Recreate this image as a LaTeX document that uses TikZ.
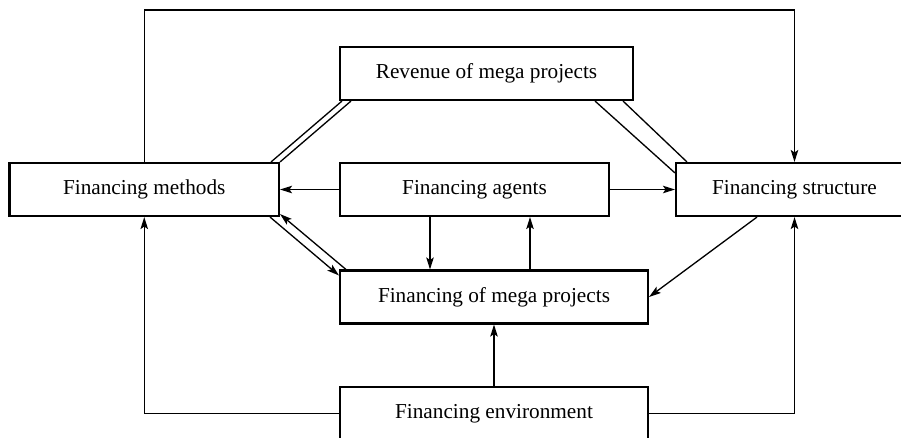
\documentclass[tikz,border=0pt]{standalone}
\usepackage{fontspec}
\setmainfont{Liberation Serif}
\usepackage{tikz}
\usetikzlibrary{arrows.meta,calc}

\begin{document}
\begin{tikzpicture}[
  x=0.02cm, y=-0.02cm,
  font=\fontsize{12.1}{14}\selectfont,
  box/.style={draw, line width=1.2pt, inner sep=0pt, minimum height=1.06cm},
  arr/.style={-{Stealth[length=0.24cm, width=0.15cm, inset=0.05cm]}, line width=0.75pt},
  ln/.style={line width=0.75pt}
]
\useasboundingbox (0,0) rectangle (901,437);
\clip (0,0) rectangle (901,437);
\node[box, minimum width=5.39cm] (methods) at (144.25,189.5) {Financing methods};
\node[box, minimum width=5.38cm] (agents) at (474.5,189.5) {Financing agents};
\node[box, minimum width=4.74cm] (structure) at (794.5,189.5) {Financing structure};
\node[box, minimum width=5.86cm] (revenue) at (486.5,73.5) {Revenue of mega projects};
\node[box, minimum width=6.16cm] (mega) at (494,297) {Financing of mega projects};
\node[box, minimum width=6.16cm] (env) at (494,413.5) {Financing environment};
\coordinate (top) at (0,10);
\coordinate (down) at (430,0);
\coordinate (up) at (530,0);
\coordinate (slant) at (757,0);
\draw[arr] (methods.north) |- (top -| structure.north) -- (structure.north);
\draw[arr] (agents) -- (methods);
\draw[arr] (agents) -- (structure);
\draw[arr] (agents.south -| down) -- (mega.north -| down);
\draw[arr] (mega.north -| up) -- (agents.south -| up);
\draw[arr] (env) -- (mega);
\draw[arr] (env.west) -| (methods.south);
\draw[arr] (env.east) -| (structure.south);
\draw[arr] (structure.south -| slant) -- (mega.east);
\draw[ln] ($(revenue.south west)+(3,0)$) -- ($(methods.north east)+(-9,0)$);
\draw[ln] ($(revenue.south west)+(12,0)$) -- (methods.north east);
\draw[ln] ($(revenue.south east)+(-39,0)$) -- ($(structure.north west)+(0,11)$);
\draw[ln] ($(revenue.south east)+(-11,0)$) -- ($(structure.north west)+(12,0)$);
\draw[arr] ($(methods.south east)+(-10,0)$) -- ($(mega.north west)+(0,6)$);
\draw[arr] ($(mega.north west)+(7,0)$) -- ($(methods.south east)+(0,-3)$);
\end{tikzpicture}
\end{document}
